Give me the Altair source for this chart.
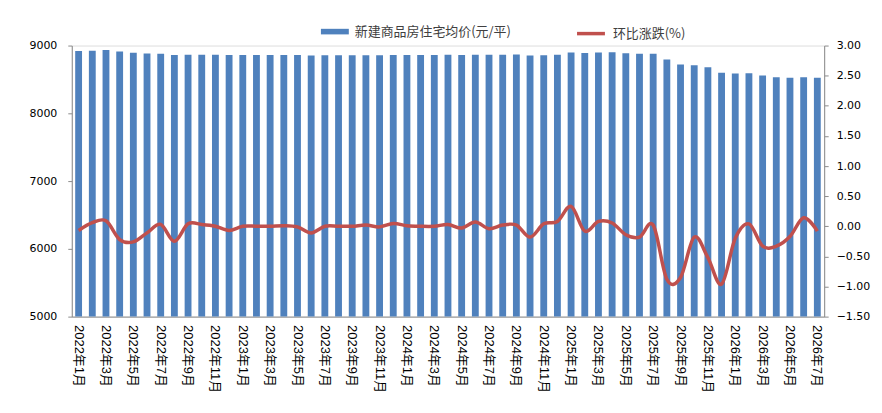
import altair as alt
import pandas as pd

months = [f"{y}年{m}月" for y in range(2022, 2027) for m in range(1, 13)][:55]
tick_labels = [m for i, m in enumerate(months) if i % 2 == 0]

price = [8920, 8922, 8935, 8912, 8893, 8882, 8878, 8860, 8864, 8866,
         8866, 8862, 8862, 8862, 8861, 8862, 8861, 8852, 8856, 8857,
         8857, 8858, 8857, 8860, 8860, 8859, 8859, 8864, 8860, 8866,
         8863, 8865, 8867, 8855, 8858, 8865, 8896, 8889, 8896, 8900,
         8888, 8878, 8878, 8796, 8721, 8711, 8681, 8598, 8588, 8590,
         8558, 8534, 8525, 8534, 8525]

mom = [-0.07, 0.06, 0.09, -0.22, -0.26, -0.11, 0.03, -0.25, 0.04, 0.03,
       0.00, -0.07, 0.00, 0.00, 0.00, 0.01, -0.01, -0.11, 0.00, 0.00,
       0.00, 0.02, -0.01, 0.045, 0.01, 0.00, 0.00, 0.03, -0.03, 0.07,
       -0.04, 0.02, 0.02, -0.18, 0.04, 0.08, 0.33, -0.08, 0.08, 0.055,
       -0.14, -0.18, 0.02, -0.88, -0.85, -0.18, -0.52, -0.96, -0.20, 0.04,
       -0.33, -0.33, -0.17, 0.14, -0.08]

bar_name = "新建商品房住宅均价(元/平)"
line_name = "环比涨跌(%)"

df = pd.DataFrame({
    "month": months,
    "price": price,
    "mom": mom,
    "bar_s": [bar_name] * len(months),
    "line_s": [line_name] * len(months),
})

NUM_FONT = "DejaVu Sans"
X_FONT = "Liberation Sans, Noto Sans CJK SC"
CJK_FONT = "Noto Sans CJK SC"

x_enc = alt.X(
    "month:N", sort=months,
    scale=alt.Scale(paddingInner=0.5, paddingOuter=0.25),
    axis=alt.Axis(values=tick_labels, labelAngle=90, title=None,
                  labelFont=X_FONT, labelFontSize=13, labelColor="#000000",
                  domainColor="#8c8c8c", ticks=False, labelPadding=8,
                  labelBound=False, labelOverlap=False),
)

bars = alt.Chart(df).mark_bar(clip=True).encode(
    x=x_enc,
    y=alt.Y("price:Q", scale=alt.Scale(domain=[5000, 9000], nice=False, zero=False),
            axis=alt.Axis(values=[5000, 6000, 7000, 8000, 9000], format="d",
                          title=None, grid=False, labelFont=NUM_FONT,
                          labelFontSize=11, labelColor="#000000",
                          domainColor="#8c8c8c", tickColor="#8c8c8c",
                          tickSize=4, labelPadding=11, orient="left")),
    fill=alt.Fill("bar_s:N", scale=alt.Scale(range=["#4F81BD"]),
                  legend=alt.Legend(title=None, orient="none", legendX=250, legendY=-28,
                                    symbolType="M-1,-0.2H1V0.2H-1Z", symbolSize=784,
                                    symbolStrokeWidth=0, labelFont=CJK_FONT,
                                    labelFontSize=13, labelColor="#404040",
                                    padding=0, labelOffset=6)),
)

line = alt.Chart(df).mark_line(interpolate="cardinal", strokeWidth=3.5).encode(
    x=x_enc,
    y=alt.Y("mom:Q", scale=alt.Scale(domain=[-1.5, 3.0], nice=False, zero=False),
            axis=alt.Axis(values=[-1.5, -1.0, -0.5, 0.0, 0.5, 1.0, 1.5, 2.0, 2.5, 3.0],
                          format=".2f", title=None, grid=False, labelFont=NUM_FONT,
                          labelFontSize=11, labelColor="#000000",
                          domainColor="#8c8c8c", tickColor="#8c8c8c",
                          tickSize=4, labelPadding=8, orient="right")),
    stroke=alt.Stroke("line_s:N", scale=alt.Scale(range=["#C0504D"]),
                      legend=alt.Legend(title=None, orient="none", legendX=505, legendY=-28,
                                        symbolType="stroke", symbolSize=784,
                                        symbolStrokeWidth=3.5, labelFont=CJK_FONT,
                                        labelFontSize=13, labelColor="#404040",
                                        padding=0, labelOffset=6)),
)

chart = alt.layer(bars, line).resolve_scale(
    y="independent", fill="independent", stroke="independent"
).properties(
    width=755, height=272,
    padding={"left": 64, "top": 37, "right": 50, "bottom": 88},
    autosize=alt.AutoSizeParams(type="none"),
).configure_view(stroke=None).configure(background="#ffffff")

chart.save("out.html", embed_options={"renderer": "svg", "actions": False})
